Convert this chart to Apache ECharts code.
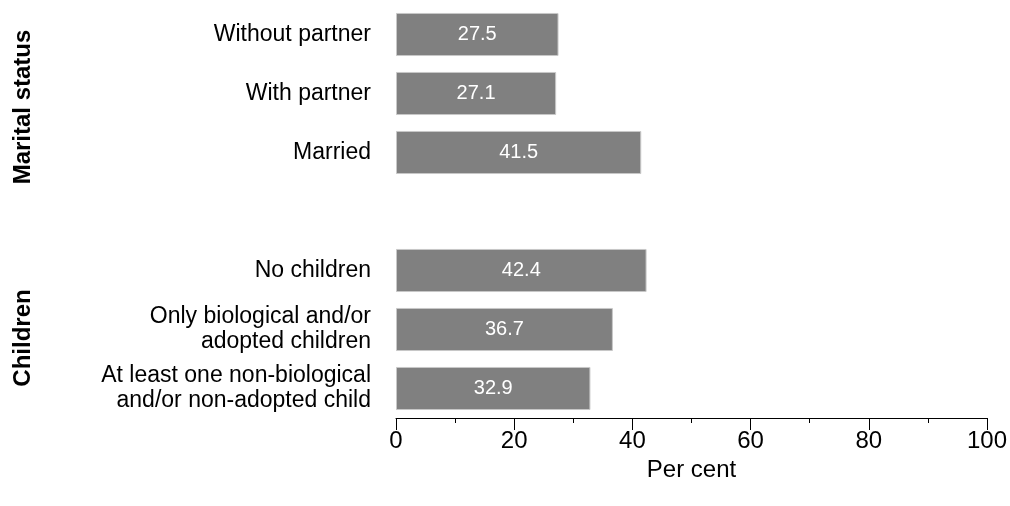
<!DOCTYPE html>
<html>
<head>
<meta charset="utf-8">
<script src="https://cdn.jsdelivr.net/npm/echarts@6/dist/echarts.min.js"></script>
<style>
html,body{margin:0;padding:0;background:#fff;}
#main{width:1010px;height:506px;}
</style>
</head>
<body>
<div id="main"></div>
<script>
// Categories from bottom to top (ECharts category y-axis starts at bottom)
const categories = [
  'At least one non-biological\nand/or non-adopted child',
  'Only biological and/or\nadopted children',
  'No children',
  '',
  'Married',
  'With partner',
  'Without partner'
];
const values = [32.9, 36.7, 42.4, null, 41.5, 27.1, 27.5];
const xTicks = [0, 20, 40, 60, 80, 100];
const groupLabels = ['Marital status', 'Children'];

const chart = echarts.init(document.getElementById('main'));
const font = 'Liberation Sans, Arial, sans-serif';
chart.setOption({
  animation: false,
  grid: {left: 396, right: 23, top: 5, bottom: 88, containLabel: false},
  xAxis: {
    type: 'value', min: 0, max: 100, interval: 20,
    name: 'Per cent', nameLocation: 'middle', nameGap: 40,
    nameTextStyle: {fontFamily: font, fontSize: 24, color: '#000'},
    axisLine: {show: true, lineStyle: {color: '#000', width: 1}},
    axisTick: {show: true, length: 12, lineStyle: {color: '#000'}},
    minorTick: {show: true, splitNumber: 2, length: 5, lineStyle: {color: '#000'}},
    splitLine: {show: false},
    axisLabel: {fontFamily: font, fontSize: 24, color: '#000', margin: 11,
      formatter: v => xTicks.includes(v) ? String(v) : ''}
  },
  yAxis: {
    type: 'category', data: categories,
    axisLine: {show: false}, axisTick: {show: false},
    axisLabel: {fontFamily: font, fontSize: 23, color: '#000', margin: 25, align: 'right', lineHeight: 25}
  },
  series: [{
    type: 'bar', data: values, barCategoryGap: '27%',
    itemStyle: {color: '#808080', borderColor: '#c8c8c8', borderWidth: 1},
    label: {show: true, position: 'inside', color: '#fff', fontFamily: font, fontSize: 20,
      formatter: p => p.value == null ? '' : p.value.toFixed(1)}
  }],
  graphic: [
    {type: 'text', x: 23, y: 107, rotation: Math.PI/2,
     style: {text: groupLabels[0], font: 'bold 24px ' + font, fill: '#000', align: 'center', verticalAlign: 'middle'}},
    {type: 'text', x: 23, y: 338, rotation: Math.PI/2,
     style: {text: groupLabels[1], font: 'bold 24px ' + font, fill: '#000', align: 'center', verticalAlign: 'middle'}}
  ]
});
</script>
</body>
</html>
